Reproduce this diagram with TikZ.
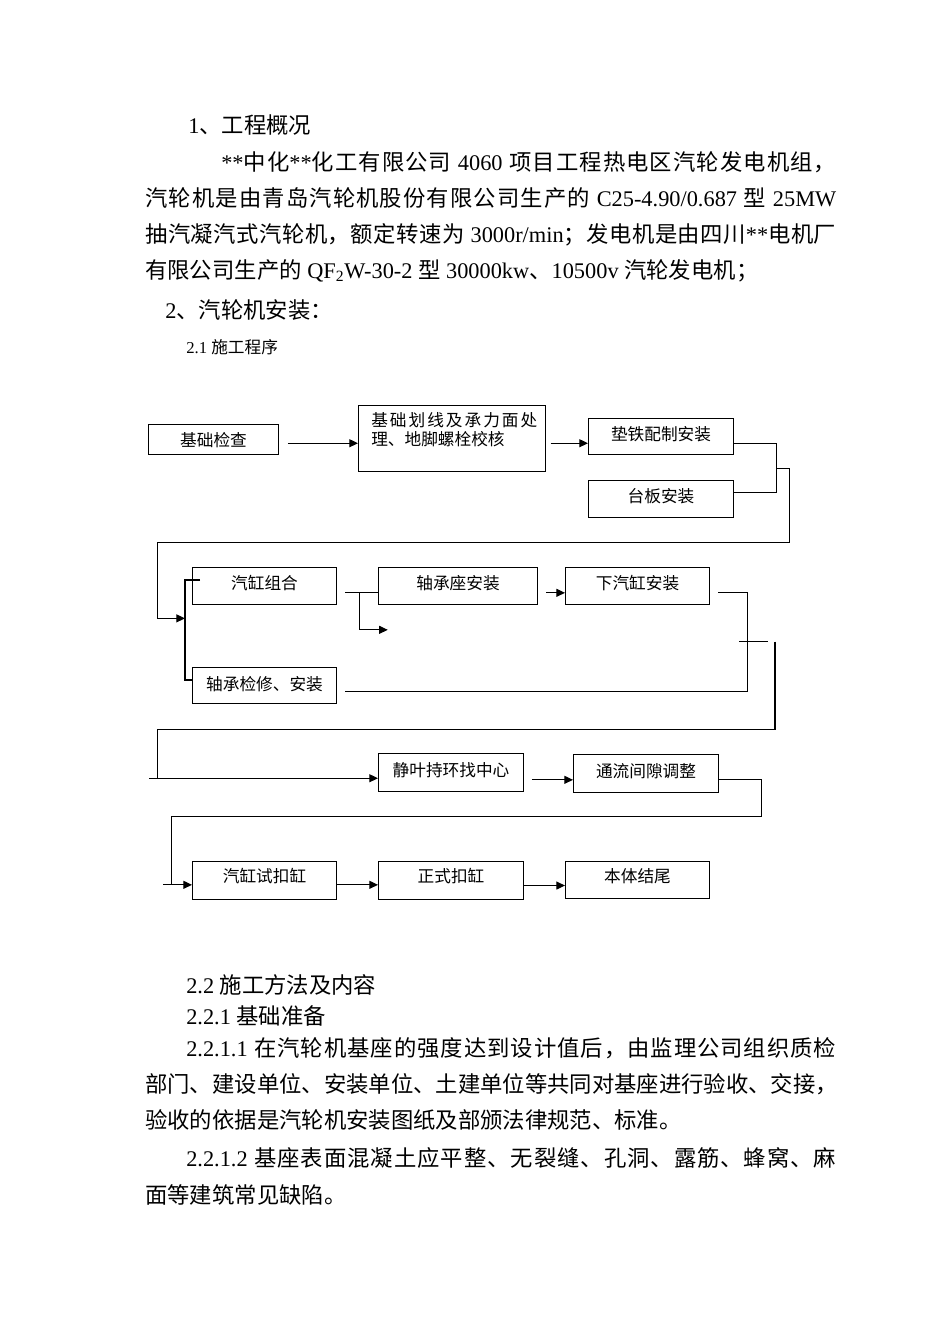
\documentclass[tikz,border=0pt]{standalone}
\usepackage{fontspec}
\setmainfont{Liberation Serif}
\newfontfamily\cjk{Noto Sans CJK SC}
\usetikzlibrary{arrows.meta,calc}
\makeatletter
\XeTeXinterchartokenstate=1
\count@="3000
\loop\ifnum\count@<"3040 \XeTeXcharclass\count@=50 \advance\count@ 1 \repeat
\count@="4E00
\loop\ifnum\count@<"A000 \XeTeXcharclass\count@=50 \advance\count@ 1 \repeat
\count@="FF00
\loop\ifnum\count@<"FFF0 \XeTeXcharclass\count@=50 \advance\count@ 1 \repeat
\makeatother
\XeTeXinterchartoks 0 50 = {\cjk}
\XeTeXinterchartoks 4095 50 = {\cjk}
\XeTeXinterchartoks 50 0 = {\rmfamily}
\XeTeXinterchartoks 50 4095 = {\rmfamily}
\XeTeXinterchartoks 50 50 = {\hskip 0pt plus 2pt\relax}
\newcommand\bodyfont{\fontsize{16.76pt}{20pt}\selectfont}
\newcommand\boxfont{\fontsize{12.5pt}{15pt}\selectfont}
\tikzset{
  box/.style={draw, line width=0.8pt, inner sep=0pt, anchor=north west, font=\boxfont, text height=16.5pt, text depth=11.25pt},
  ln/.style={line width=0.8pt},
  arr/.style={line width=0.8pt, -{Triangle[length=6.5pt,width=6pt]}},
  body/.style={anchor=base west, inner sep=0pt, font=\bodyfont},
}
\begin{document}
\begin{tikzpicture}[x=0.75pt,y=-0.75pt]
\useasboundingbox (0,0) rectangle (950,1344);
% ---- text above ----
\node[body] (t1) at (188,134) {1、工程概况};
\node[body] (t2) at (221,170.5) {\hbox to 461.25pt{**中化**化工有限公司 4060 项目工程热电区汽轮发电机组，}};
\node[body] (t3) at (145,206.5) {\hbox to 518.25pt{汽轮机是由青岛汽轮机股份有限公司生产的 C25-4.90/0.687 型 25MW}};
\node[body] (t4) at (145,242.5) {\hbox to 518.25pt{抽汽凝汽式汽轮机，额定转速为 3000r/min；发电机是由四川**电机厂}};
\node[body] (t5) at (145,278.5) {有限公司生产的 QF\textsubscript{2}W-30-2 型 30000kw、10500v 汽轮发电机；};
\node[body] (t6) at (165,318.5) {2、汽轮机安装：};
\node[body, font=\boxfont] (t7) at (186,353.5) {2.1 施工程序};
% ---- boxes ----
\node[box, minimum width=97.5pt, text depth=6pt] (A) at (148,424) {基础检查};
\node[draw, line width=0.8pt, inner sep=0pt, anchor=north west, minimum width=140.25pt, minimum height=49.5pt] (B) at (358,405) {};
\node[body, font=\boxfont] (b1t) at (371,426.5) {\hbox to 124.5pt{基础划线及承力面处}};
\node[body, font=\boxfont] (b2t) at (371,445) {理、地脚螺栓校核};
\node[box, minimum width=108.75pt, text depth=10.5pt] (C) at (588,418) {垫铁配制安装};
\node[box, minimum width=108.75pt] (D) at (588,480) {台板安装};
\node[box, minimum width=108pt] (E) at (192,567) {汽缸组合};
\node[box, minimum width=119.25pt] (F) at (378,567) {轴承座安装};
\node[box, minimum width=108pt] (G) at (565,567) {下汽缸安装};
\node[box, minimum width=108pt, text height=17.25pt, text depth=9.75pt] (H) at (192,667) {轴承检修、安装};
\node[box, minimum width=108.75pt, text height=17.25pt, text depth=11.25pt] (I) at (378,753) {静叶持环找中心};
\node[box, minimum width=108.75pt, text height=17.25pt, text depth=11.25pt] (J) at (573,754) {通流间隙调整};
\node[box, minimum width=108pt, text height=15.75pt, text depth=12.75pt] (K) at (192,861) {汽缸试扣缸};
\node[box, minimum width=108.75pt, text height=15.75pt, text depth=12.75pt] (L) at (378,861) {正式扣缸};
\node[box, minimum width=108pt, text height=15.75pt, text depth=12pt] (M) at (565,861) {本体结尾};
% ---- connectors row 1 ----
\coordinate (a1) at ($(A.east)+(8.7,3.7)$);
\draw[arr] (a1) -- (a1 -| B.west);
\coordinate (bb) at ($(B.east)+(4.6,4.7)$);
\draw[arr] (bb) -- (bb -| C.west);
\coordinate (c1) at ($(C.east)+(0,6.7)$);
\coordinate (d1) at ($(D.east)+(0,-6.2)$);
\coordinate (c2) at ($(c1)+(42.7,0)$);
\draw[ln] (c1) -- (c2) |- (d1);
\coordinate (m1) at ($(c2)!0.5!(c2 |- d1)$);
\coordinate (e1) at ($(E.south west)+(-7,13.3)$);
\draw[arr] (m1) -- ++(12.6,0) |- (157.3,542.7) |- (e1);
% ---- row 2 ----
\coordinate (e2) at ($(E.north west)+(-7,13)$);
\coordinate (h2) at ($(H.north west)+(-7,13)$);
\draw[ln] ($(e2)+(15,0)$) -- (e2) -- (h2) -- (h2 -| H.west);
\coordinate (e3) at ($(E.east)+(8,6.2)$);
\draw[ln] (e3) -- (e3 -| F.west);
\draw[arr] ($(e3)+(14.3,0)$) -- ++(0,37.6) -- ++(28.4,0);
\coordinate (f1) at ($(F.east)+(8,6.8)$);
\draw[arr] (f1) -- (f1 -| G.west);
\coordinate (g1) at ($(G.east)+(8.3,6.8)$);
\coordinate (h3) at ($(H.east)+(8,6.2)$);
\draw[ln] (g1) -- ++(29.4,0) |- (h3);
\draw[ln] ($(g1)+(21,48.7)$) -- ++(28.4,0);
\draw[ln] (775,641.7) |- (157.3,729.3) -- (157.3,777.7);
% ---- row 3 ----
\coordinate (i0) at ($(I.west)+(0,5.7)$);
\draw[arr] ($(i0)+(-228.7,0)$) -- (i0);
\coordinate (i2) at ($(I.east)+(7.7,7.3)$);
\draw[arr] (i2) -- (i2 -| J.west);
\draw[ln] ($(J.east)+(0,6.3)$) -- ++(42.7,0) |- (171.7,816.7) -- (171.7,884.3);
% ---- row 4 ----
\coordinate (k1) at ($(K.west)+(0,4.3)$);
\draw[arr] ($(k1)+(-28.7,0)$) -- (k1);
\coordinate (k2) at ($(K.east)+(0,4.3)$);
\draw[arr] (k2) -- (k2 -| L.west);
\coordinate (l2) at ($(L.east)+(0,5)$);
\draw[arr] (l2) -- (l2 -| M.west);
% ---- text below ----
\node[body] (u1) at (186,993.5) {2.2 施工方法及内容};
\node[body] (u2) at (186,1024.5) {2.2.1 基础准备};
\node[body] (u3) at (186,1056.5) {\hbox to 487.5pt{2.2.1.1 在汽轮机基座的强度达到设计值后，由监理公司组织质检}};
\node[body] (u4) at (145,1092.5) {\hbox to 518.25pt{部门、建设单位、安装单位、土建单位等共同对基座进行验收、交接，}};
\node[body] (u5) at (145,1128.5) {验收的依据是汽轮机安装图纸及部颁法律规范、标准。};
\node[body] (u6) at (186,1166.5) {\hbox to 487.5pt{2.2.1.2 基座表面混凝土应平整、无裂缝、孔洞、露筋、蜂窝、麻}};
\node[body] (u7) at (145,1203.5) {面等建筑常见缺陷。};
\end{tikzpicture}
\end{document}
